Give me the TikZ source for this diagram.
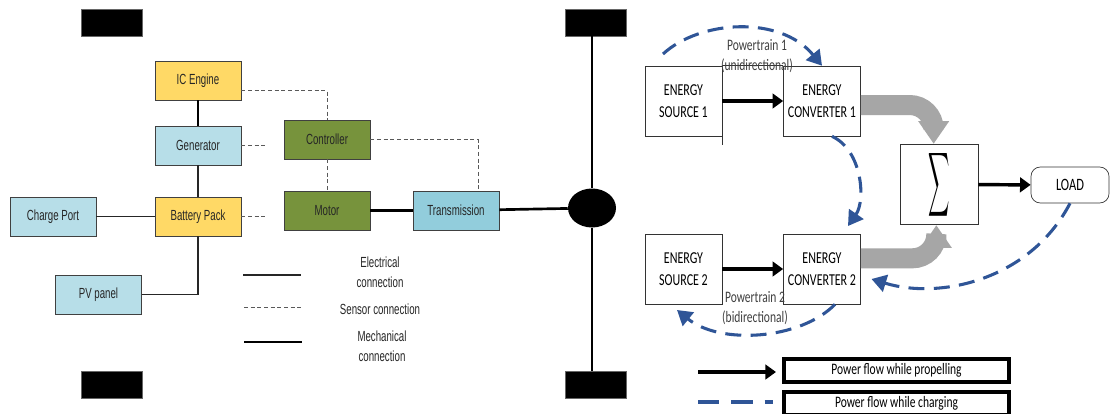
\documentclass[tikz,border=0pt]{standalone}
\usepackage{fontspec}
\setmainfont{Liberation Sans}
\newfontfamily\agfont[FakeStretch=0.66]{Liberation Sans}
\newfontfamily\cbfont[FakeStretch=0.72]{Carlito}
\usepackage{graphicx}
\usepackage{xcolor}
\usetikzlibrary{positioning, arrows.meta, calc, shapes.geometric}
\definecolor{engyellow}{HTML}{FFD966}
\definecolor{partblue}{HTML}{B7DEE8}
\definecolor{transblue}{HTML}{92CDDC}
\definecolor{ctrlgreen}{HTML}{77933C}
\definecolor{chargeblue}{HTML}{2F5597}
\definecolor{flowgray}{HTML}{A6A6A6}

\begin{document}
\begin{tikzpicture}[x=0.75pt, y=-0.75pt,
  part/.style={rectangle, draw=black!75, line width=0.6pt, minimum width=64.5pt, minimum height=29.25pt, inner sep=1pt, font=\agfont\fontsize{11}{13}\selectfont, text=black!85},
  tyre/.style={rectangle, fill=black, draw=black!60, minimum width=45.75pt, minimum height=20.25pt, inner sep=0pt},
  unit/.style={rectangle, draw=black!80, line width=0.5pt, minimum width=57.75pt, minimum height=52.5pt, align=center, font=\cbfont\fontsize{12.5}{17}\selectfont},
  legbox/.style={rectangle, draw=black, line width=2.4pt, minimum width=168.75pt, minimum height=17.25pt, inner sep=0pt, font=\cbfont\fontsize{12}{13}\selectfont},
  elec/.style={black!85, line width=0.8pt},
  sens/.style={black!65, line width=0.6pt, dash pattern=on 3pt off 2pt},
  mech/.style={black, line width=2pt},
  arr/.style={-{Triangle[length=8pt, width=11pt]}, line width=2.6pt},
  chg/.style={-{Triangle[length=11pt, width=13pt]}, chargeblue, line width=2.3pt, dash pattern=on 12pt off 7pt},
  flow/.style={-{Triangle[length=17pt, width=22pt]}, flowgray, line width=15pt, rounded corners=18pt},
  lbl/.style={font=\agfont\fontsize{11}{15}\selectfont, text=black!85, align=center},
  ptlbl/.style={font=\cbfont\fontsize{12}{14.5}\selectfont, text=black!75, align=center}
]
\fill[white] (0,0) rectangle (1110,414);
\useasboundingbox (0,0) rectangle (1110,414);

% series hybrid layout
\node[tyre] (wfl) at (111.5,22.5) {};
\node[tyre] (wrl) at (111.5,385) {};
\node[tyre] (wfr) at (595.5,22.5) {};
\node[tyre] (wrr) at (595.5,385) {};
\node[part, fill=engyellow] (ice) at (198,80.5) {IC Engine};
\node[part, fill=partblue] (gen) at (198,145.5) {Generator};
\node[part, fill=engyellow] (batt) at (198,216.5) {Battery Pack};
\node[part, fill=partblue] (port) at (53,216.5) {Charge Port};
\node[part, fill=partblue] (pv) at (98.5,294.5) {PV panel};
\node[part, fill=ctrlgreen] (ctrl) at (327,139.5) {Controller};
\node[part, fill=ctrlgreen] (motor) at (327,210.5) {Motor};
\node[part, fill=transblue] (trans) at (456,210.5) {Transmission};
\node[ellipse, fill=black, minimum width=36pt, minimum height=29.25pt, inner sep=0pt] (diff) at (592,208) {};
\coordinate (gstub) at (266,145.5);
\coordinate (bstub) at (266,216.5);

\draw[mech] (ice) -- (gen);
\draw[elec] (gen) -- (batt);
\draw[elec] (port) -- (batt);
\draw[elec] (batt.south) |- (pv.east);
\draw[sens] ([yshift=-7.5pt]ice.east) -| (ctrl.north);
\draw[sens] (gen.east) -- (gstub);
\draw[sens] (batt.east) -- (bstub);
\draw[sens] (ctrl) -- (motor);
\draw[sens] (ctrl.east) -| ([xshift=16.5pt]trans.north);
\draw[mech] (motor) -- (trans);
\draw[mech] (trans) -- (diff);
\draw[mech, line width=1.6pt] (diff.north) -- (diff.north |- wfr.south);
\draw[mech, line width=1.6pt] (diff.south) -- (diff.south |- wrr.north);

% legend (left)
\coordinate (le1) at (243,275);
\coordinate (le2) at (301,275);
\coordinate (ls1) at (244,307.5);
\coordinate (ls2) at (302,307.5);
\coordinate (lm1) at (244,342);
\coordinate (lm2) at (302,342);
\draw[elec] (le1) -- (le2);
\draw[sens] (ls1) -- (ls2);
\draw[mech] (lm1) -- (lm2);
\node[lbl] (elecl) at (380,272) {Electrical\\connection};
\node[lbl] (sensl) at (380,309) {Sensor connection};
\node[lbl] (mechl) at (382,346) {Mechanical\\connection};

% multi-source powertrain
\node[unit] (src1) at (683.5,101) {ENERGY\\SOURCE 1};
\node[unit] (conv1) at (822,101) {ENERGY\\CONVERTER 1};
\node[unit] (src2) at (683.5,269) {ENERGY\\SOURCE 2};
\node[unit] (conv2) at (822,269) {ENERGY\\CONVERTER 2};
\node[unit, minimum width=58.5pt, minimum height=48.75pt] (sum) at (939,184.5) {\resizebox{16pt}{37pt}{$\displaystyle\sum$}};
\node[unit, rounded corners=7pt, minimum width=58.5pt, minimum height=27pt, font=\cbfont\fontsize{13}{14}\selectfont] (load) at (1070,185) {LOAD};
\draw[black!80, line width=0.5pt] (src1.north east) -- (conv1.north west);
\draw[black!80, line width=0.5pt] (src1.south east) -- ++(0,9);

\draw[flow] ([yshift=-3pt]conv1.east) -| ([xshift=-4pt]sum.north);
\draw[flow] ([yshift=8pt]conv2.east) -| ([xshift=-2pt]sum.south);
\draw[arr] (src1) -- (conv1);
\draw[arr] (src2) -- (conv2);
\draw[arr] (sum) -- (load);

\node[ptlbl] (pt1) at (757,56) {Powertrain 1\\(unidirectional)};
\node[ptlbl] (pt2) at (755,308) {Powertrain 2\\(bidirectional)};

\coordinate (c1) at (663,54);
\coordinate (c2) at (848,226);
\coordinate (c4) at (677,310);
\draw[chg] (c1) .. controls (700,20) and (780,15) .. (conv1.north);
\draw[chg] ([xshift=7.5pt]conv1.south) .. controls (862,150) and (866,200) .. (c2);
\draw[chg] (load.south) .. controls (1030,280) and (940,300) .. ([xshift=8pt,yshift=-7.5pt]conv2.east);
\draw[chg] ([xshift=9.75pt]conv2.south) .. controls (800,340) and (720,345) .. (c4);

% legend (right)
\node[legbox] (leg1) at (896.5,370.5) {Power flow while propelling};
\node[legbox] (leg2) at (896.5,403.5) {Power flow while charging};
\coordinate (pa) at (698,372);
\coordinate (pb) at (776,372);
\coordinate (qa) at (698,402);
\coordinate (qb) at (773,402);
\draw[arr] (pa) -- (pb);
\draw[chg, -, line width=2.6pt, dash pattern=on 16pt off 9pt] (qa) -- (qb);
\end{tikzpicture}
\end{document}
